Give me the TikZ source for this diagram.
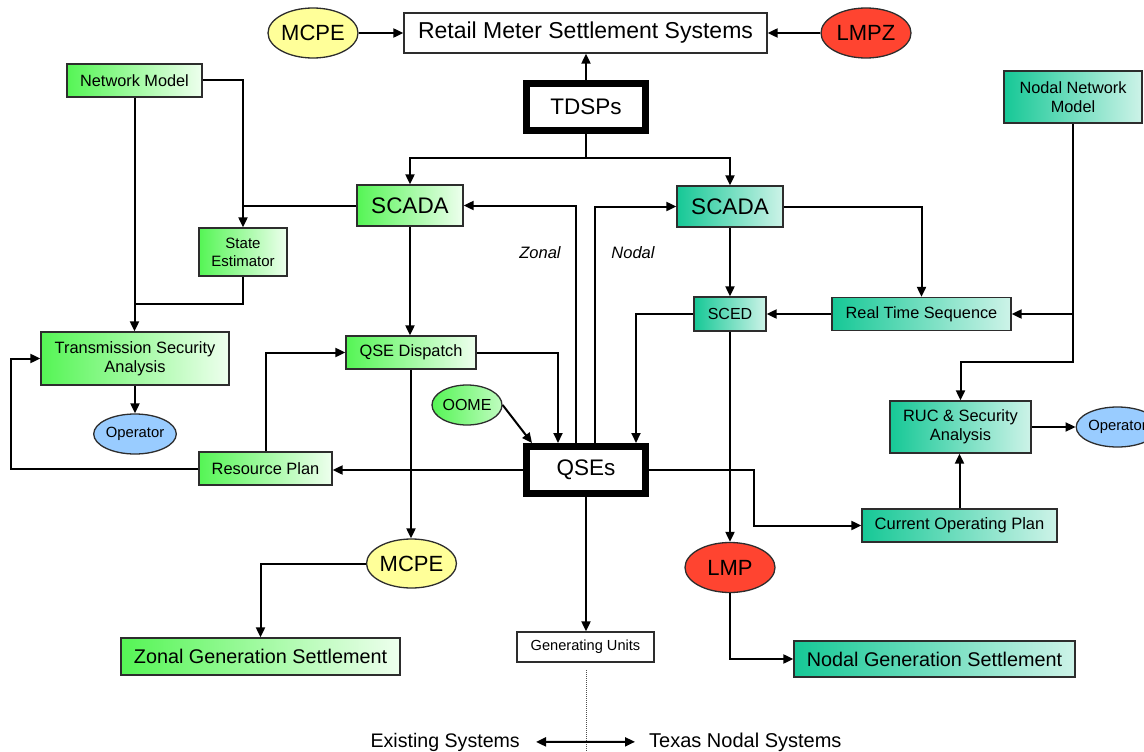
\documentclass[tikz,border=0pt]{standalone}
\usepackage{fontspec}
\setmainfont{Liberation Sans}
\usepackage{xcolor}
\usetikzlibrary{arrows.meta,shapes.geometric}

\definecolor{zonalgreen}{RGB}{85,245,85}
\definecolor{zonalpale}{RGB}{238,255,238}
\definecolor{nodalteal}{RGB}{22,200,150}
\definecolor{nodalpale}{RGB}{205,243,232}
\definecolor{mcpeyellow}{RGB}{255,255,153}
\definecolor{lmpred}{RGB}{255,68,48}
\definecolor{opblue}{RGB}{153,204,255}
\definecolor{edgegrey}{RGB}{45,45,45}

\newcommand{\fsz}[2]{\fontsize{#1}{#2}\selectfont}

\begin{document}
\begin{tikzpicture}[x=1pt, y=-1pt,
  box/.style={draw=edgegrey, line width=1.3pt, inner sep=0pt, align=center},
  zbox/.style={box, left color=zonalgreen, right color=zonalpale},
  nbox/.style={box, left color=nodalteal, right color=nodalpale},
  wbox/.style={box, fill=white},
  hub/.style={draw=black, line width=7pt, fill=white, inner sep=0pt,
              minimum width=119pt, minimum height=47pt,
              font=\fsz{22.5}{27}},
  oval/.style={ellipse, draw=edgegrey, line width=1.3pt, inner sep=0pt},
  link/.style={line width=2pt},
  arr/.style={link, -{Triangle[length=10pt,width=9pt]}}]

\useasboundingbox (0,0) rectangle (1144,752);

% top row
\node[wbox, minimum width=363pt, minimum height=40pt, font=\fsz{23}{27}] (retail) at (585.5,33) {Retail Meter Settlement Systems};
\node[oval, fill=mcpeyellow, minimum width=90pt, minimum height=50pt, font=\fsz{22}{26}] (mcpeT) at (313,33) {MCPE};
\node[oval, fill=lmpred, minimum width=90pt, minimum height=50pt, font=\fsz{22}{26}] (lmpz) at (866,33) {LMPZ};
\node[hub] (tdsp) at (586,107) {TDSPs};

% zonal side
\node[zbox, minimum width=135pt, minimum height=33pt, font=\fsz{16.3}{19}] (netmod) at (134.5,80.5) {Network Model};
\node[zbox, minimum width=106pt, minimum height=41pt, font=\fsz{22.5}{26}] (scadaZ) at (410,205.5) {SCADA};
\node[zbox, minimum width=88pt, minimum height=48pt, font=\fsz{15}{18}] (stest) at (243,252) {State\\Estimator};
\node[zbox, minimum width=188pt, minimum height=53pt, font=\fsz{16.4}{19}] (tsa) at (135,358.5) {Transmission Security\\Analysis};
\node[oval, fill=opblue, minimum width=70pt, minimum height=40pt, font=\fsz{14.8}{17}] (opZ) at (135,434) {Operator};
\node[zbox, minimum width=133pt, minimum height=33pt, font=\fsz{16.4}{19}] (resplan) at (265.5,468.5) {Resource Plan};
\node[zbox, minimum width=130pt, minimum height=33pt, font=\fsz{16.4}{19}] (qsedisp) at (411,352.5) {QSE Dispatch};
\node[oval, left color=zonalgreen, right color=zonalpale!70!zonalgreen, minimum width=70pt, minimum height=40pt, font=\fsz{16}{19}] (oome) at (467,405) {OOME};
\node[oval, fill=mcpeyellow, minimum width=89pt, minimum height=49pt, font=\fsz{22}{26}] (mcpeB) at (411.5,563.5) {MCPE};
\node[zbox, minimum width=279pt, minimum height=37pt, font=\fsz{19.8}{23}] (zgs) at (260.5,656.5) {Zonal Generation Settlement};

% centre
\node[hub] (qse) at (586,470) {QSEs};
\node[wbox, minimum width=137pt, minimum height=30pt, font=\fsz{14.6}{17}] (genu) at (585.5,647) {Generating Units};
\node[font=\itshape\fsz{16.5}{20}] (zlab) at (540,253) {Zonal};
\node[font=\itshape\fsz{16.5}{20}] (nlab) at (633,253) {Nodal};

% nodal side
\node[nbox, minimum width=106pt, minimum height=41pt, font=\fsz{22.5}{26}] (scadaN) at (730,206.5) {SCADA};
\node[nbox, minimum width=72pt, minimum height=34pt, font=\fsz{16}{19}] (sced) at (730,314) {SCED};
\node[nbox, minimum width=179pt, minimum height=33pt, font=\fsz{16.3}{19}] (rts) at (921.5,314) {Real Time Sequence};
\node[nbox, minimum width=138pt, minimum height=52pt, font=\fsz{16.3}{19}] (nnm) at (1073,97) {Nodal Network\\Model};
\node[nbox, minimum width=141pt, minimum height=52pt, font=\fsz{16.4}{18.5}] (ruc) at (960.5,427) {RUC \& Security\\Analysis};
\node[oval, fill=opblue, minimum width=70pt, minimum height=40pt, font=\fsz{14.8}{17}] (opN) at (1117.5,427) {Operator};
\node[nbox, minimum width=195pt, minimum height=33pt, font=\fsz{16.5}{19}] (cop) at (959.5,525.5) {Current Operating Plan};
\node[oval, fill=lmpred, minimum width=90pt, minimum height=50pt, font=\fsz{22}{26}] (lmp) at (730,567.5) {LMP};
\node[nbox, minimum width=281pt, minimum height=36pt, font=\fsz{19.8}{23}] (ngs) at (934.5,659) {Nodal Generation Settlement};

% bottom legend
\node[font=\fsz{19.6}{23}, anchor=base east, inner sep=0pt] (existing) at (520,747) {Existing Systems};
\node[font=\fsz{20}{23}, anchor=base west, inner sep=0pt] (texas) at (649,747) {Texas Nodal Systems};
\coordinate (divTop) at (586,670);
\coordinate (divBot) at (586,752);
\coordinate (split) at (586,158);
\coordinate (seJoin) at (135,304);
\coordinate (nnmBend) at (1073,362);

% straight feeds
\foreach \a/\b in {mcpeT.east/retail.west, lmpz.west/retail.east,
                   rts.west/sced.east, ruc.east/opN.west}
  \draw[arr] (\a) -- (\b);

\draw[arr] (tdsp.north) -- (tdsp.north |- retail.south);
\draw[arr] (tdsp.south) -- (split) -| (scadaZ.north);
\draw[arr] (split) -| (scadaN.north);

% zonal
\draw[arr] (netmod.south) -- (netmod.south |- tsa.north);
\draw[arr] (netmod.east) -| (stest.north);
\draw[link] (scadaZ.west) -- (stest.north |- scadaZ.west);
\draw[link] (stest.south) |- (seJoin);
\draw[arr] (scadaZ.south) -- (scadaZ.south |- qsedisp.north);
\draw[arr] (tsa.south) -- (opZ.north);
\draw[arr] (resplan.west) -- ++(-187,0) |- (tsa.west);
\draw[arr] (resplan.north) |- (qsedisp.west);
\draw[arr] (qse.west) -- (qse.west -| resplan.east);
\draw[arr] (qsedisp.east) -| ([xshift=-28pt]qse.north);
\draw[arr] (qsedisp.south) -- (qsedisp.south |- mcpeB.north);
\draw[arr] (oome.east) -- ([xshift=9pt]qse.north west);
\draw[arr] (mcpeB.west) -| (zgs.north);

% zonal / nodal feeds from the QSEs
\draw[arr] ([xshift=-10pt]qse.north) |- (scadaZ.east);
\draw[arr] ([xshift=9pt]qse.north) |- (scadaN.west);

% nodal
\draw[arr] (scadaN.south) -- (sced.north);
\draw[arr] (sced.west) -| ([xshift=50pt]qse.north);
\draw[arr] (sced.south) -- (lmp.north);
\draw[arr] (scadaN.east) -| (rts.north);
\draw[arr] (nnm.south) -- (nnmBend) -| (ruc.north);
\draw[arr] (nnm.south |- rts.east) -- (rts.east);
\draw[arr] (cop.north) -- (cop.north |- ruc.south);
\draw[arr] (qse.east) -- ++(105,0) |- (cop.west);
\draw[arr] (lmp.south) |- (ngs.west);
\draw[arr] (qse.south) -- (qse.south |- genu.north);

% divider
\draw[densely dotted, line width=1pt, black!70] (divTop) -- (divBot);
\draw[link, {Triangle[length=10pt,width=9pt]}-{Triangle[length=10pt,width=9pt]},
      shorten <=16pt, shorten >=14pt] (existing.east) -- (texas.west);

\end{tikzpicture}
\end{document}
